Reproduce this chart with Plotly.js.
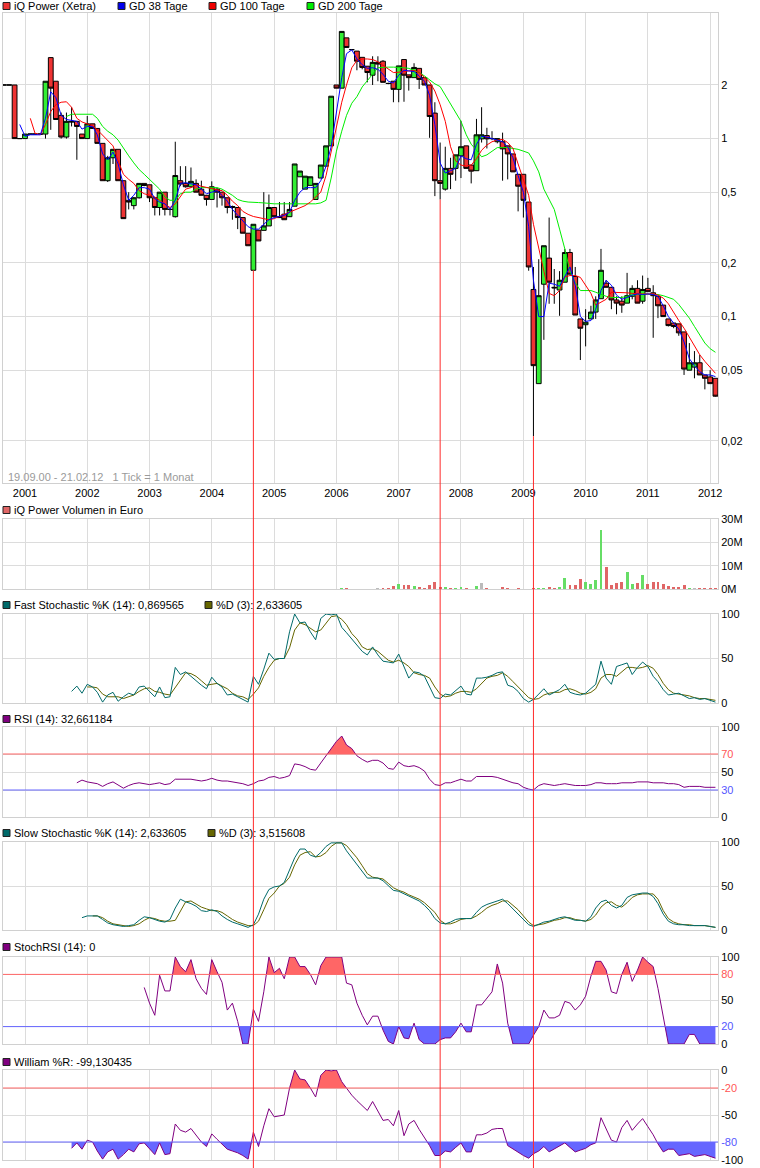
<!DOCTYPE html>
<html><head><meta charset="utf-8">
<script src="https://cdn.plot.ly/plotly-3.0.1.min.js"></script>
<style>html,body{margin:0;padding:0;background:#fff}#chart{width:760px;height:1168px}</style>
</head><body><div id="chart"></div>
<script>
// ---------- DATA (monthly, first candle = Sep 2000) ----------
const startYear = 2000, startMonth = 9;

const open = [2,2,2,1,1.0,1.06,1.06,1.06,1.06,2.85,
 2.1,1.35,1.02,1.25,1.25,1.06,1.0,1.21,1.14,0.94,
 0.58,0.78,0.87,0.58,0.45,0.42,0.465,0.56,0.55,0.465,
 0.41,0.50,0.40,0.364,0.58,0.56,0.536,0.56,0.52,0.48,
 0.455,0.52,0.50,0.465,0.41,0.41,0.36,0.294,0.182,0.306,
 0.305,0.323,0.41,0.364,0.376,0.364,0.417,0.61,0.52,0.546,
 0.455,0.60,0.70,0.91,2.0,1.92,3.68,3.16,3.1,2.86,
 2.55,2.27,2.68,2.72,2.04,2.1,1.89,2.78,2.28,2.2,
 2.48,2.2,2.0,1.39,0.58,0.52,0.68,0.68,0.80,0.91,
 0.71,0.66,0.996,1.04,1.0,0.96,0.96,0.91,0.82,0.63,
 0.63,0.44,0.142,0.042,0.152,0.213,0.146,0.141,0.156,0.229,
 0.168,0.097,0.09,0.097,0.106,0.126,0.154,0.146,0.124,0.122,
 0.119,0.13,0.144,0.122,0.144,0.136,0.13,0.116,0.097,0.092,
 0.091,0.082,0.05,0.052,0.055,0.047,0.0458,0.045];
const high = [2,2,2,1,1.06,1.06,1.06,1.06,2.1,2.86,
 2.1,1.4,1.4,1.5,1.25,1.06,1.34,1.21,1.14,0.94,
 0.80,0.87,0.87,0.58,0.50,0.47,0.56,0.56,0.55,0.465,
 0.50,0.50,0.41,0.96,0.70,0.70,0.688,0.59,0.58,0.48,
 0.575,0.53,0.50,0.465,0.42,0.41,0.36,0.294,0.33,0.306,
 0.50,0.485,0.41,0.44,0.44,0.44,0.72,0.657,0.615,0.61,
 0.56,0.71,0.91,1.73,2.0,4.0,3.68,3.18,3.1,2.86,
 2.55,2.9,2.9,2.76,2.06,2.1,2.56,2.78,2.28,2.65,
 2.48,2.2,2.0,1.6,0.95,0.90,0.78,0.81,1.26,0.91,
 0.71,1.29,1.5,1.15,1.1,1.0,1.08,0.91,0.82,0.63,
 0.63,0.44,0.19,0.21,0.25,0.36,0.185,0.18,0.24,0.24,
 0.19,0.097,0.11,0.115,0.13,0.24,0.16,0.146,0.13,0.13,
 0.176,0.15,0.16,0.17,0.165,0.15,0.13,0.116,0.097,0.092,
 0.091,0.082,0.071,0.064,0.061,0.047,0.05,0.045];
const low = [2,2,1,1,1.0,1.06,1.06,1.06,1.0,1.12,
 1.28,1.0,1.0,1.17,0.76,1.0,1.0,1.14,0.94,0.58,
 0.57,0.72,0.58,0.355,0.40,0.40,0.46,0.54,0.44,0.37,
 0.37,0.37,0.37,0.36,0.54,0.53,0.53,0.50,0.48,0.42,
 0.455,0.41,0.42,0.38,0.35,0.31,0.294,0.25,0.182,0.266,
 0.305,0.323,0.364,0.36,0.35,0.364,0.417,0.61,0.52,0.546,
 0.455,0.60,0.70,0.91,1.92,1.92,3.25,3.14,2.42,2.45,
 2.07,2.0,2.1,2.07,2.02,1.6,1.6,1.61,1.86,2.2,
 1.9,2.0,1.01,0.475,0.455,0.51,0.52,0.58,0.60,0.68,
 0.56,0.66,0.95,0.88,0.98,0.94,0.58,0.59,0.65,0.39,
 0.36,0.181,0.0213,0.042,0.074,0.118,0.118,0.101,0.156,0.173,
 0.102,0.057,0.068,0.097,0.097,0.126,0.146,0.11,0.103,0.105,
 0.119,0.125,0.119,0.118,0.138,0.076,0.098,0.1,0.088,0.086,
 0.078,0.047,0.05,0.045,0.047,0.039,0.042,0.0355];
const close = [2,2,1,1,1.06,1.06,1.06,1.06,2.1,1.92,
 1.28,1.02,1.25,1.24,1.17,1.0,1.21,1.14,0.94,0.58,
 0.78,0.87,0.58,0.355,0.44,0.465,0.56,0.545,0.465,0.41,
 0.50,0.40,0.40,0.62,0.555,0.536,0.575,0.50,0.48,0.455,
 0.536,0.50,0.465,0.41,0.415,0.36,0.294,0.25,0.33,0.266,
 0.323,0.41,0.364,0.36,0.35,0.40,0.72,0.657,0.615,0.61,
 0.56,0.71,0.91,1.73,1.92,4.0,3.25,3.16,2.72,2.51,
 2.35,2.68,2.62,2.07,2.04,1.89,2.56,2.27,2.2,2.51,
 2.15,2.0,1.33,0.58,0.56,0.68,0.63,0.81,0.90,0.68,
 0.656,1.05,1.05,0.996,1.0,1.0,0.875,0.82,0.65,0.54,
 0.45,0.19,0.053,0.131,0.25,0.156,0.145,0.16,0.229,0.173,
 0.102,0.086,0.093,0.106,0.124,0.182,0.146,0.124,0.119,0.116,
 0.131,0.144,0.119,0.142,0.138,0.131,0.115,0.1,0.089,0.088,
 0.081,0.0507,0.055,0.055,0.047,0.045,0.042,0.0357];

const gd38Start = 3;
const gd38 = [1.2,1.03,1.05,1.05,1.05,1.3,1.83,
 1.7,1.35,1.28,1.27,1.25,1.13,1.17,1.17,1.05,0.82,
 0.76,0.84,0.72,0.55,0.45,0.48,0.53,0.53,0.52,0.46,
 0.44,0.43,0.40,0.45,0.56,0.565,0.56,0.55,0.52,0.49,
 0.50,0.51,0.48,0.445,0.40,0.37,0.345,0.32,0.31,0.31,
 0.33,0.35,0.36,0.365,0.37,0.385,0.45,0.50,0.53,0.53,
 0.53,0.58,0.70,0.90,1.4,2.2,3.0,3.15,2.8,2.6,
 2.48,2.5,2.45,2.3,2.1,2.05,2.27,2.42,2.4,2.38,
 2.25,2.1,1.75,1.2,0.73,0.64,0.66,0.68,0.80,0.77,
 0.76,0.93,1.03,1.02,1.0,0.98,0.96,0.90,0.78,0.62,
 0.50,0.32,0.16,0.10,0.10,0.154,0.152,0.148,0.167,0.19,
 0.15,0.10,0.094,0.095,0.11,0.14,0.16,0.15,0.132,0.125,
 0.128,0.132,0.134,0.133,0.134,0.133,0.13,0.115,0.10,0.092,
 0.085,0.072,0.058,0.053,0.049,0.047,0.047,0.046];
const gd100Start = 5;
const gd100 = [1.3,1.07,1.05,1.2,1.42,
 1.55,1.6,1.61,1.5,1.3,1.24,1.21,1.18,1.12,1.04,
 0.97,0.91,0.75,0.63,0.59,0.56,0.51,0.49,0.48,0.47,
 0.45,0.43,0.41,0.43,0.47,0.52,0.53,0.55,0.54,0.53,
 0.52,0.515,0.51,0.48,0.445,0.42,0.39,0.375,0.365,0.36,
 0.355,0.35,0.355,0.365,0.375,0.385,0.395,0.41,0.42,0.44,
 0.47,0.50,0.62,0.85,1.2,1.6,2.0,2.5,2.75,2.8,
 2.8,2.78,2.7,2.58,2.45,2.35,2.36,2.38,2.4,2.42,
 2.35,2.2,2.08,1.85,1.55,1.25,0.9,0.75,0.71,0.70,
 0.71,0.77,0.86,0.92,0.96,0.98,0.99,0.95,0.88,0.72,
 0.58,0.48,0.33,0.24,0.18,0.135,0.131,0.14,0.167,0.17,
 0.17,0.166,0.15,0.135,0.116,0.12,0.125,0.137,0.137,0.137,
 0.136,0.135,0.134,0.134,0.134,0.134,0.132,0.127,0.118,0.105,
 0.095,0.086,0.077,0.069,0.061,0.056,0.052,0.048];
const gd200Start = 12;
const gd200 = [1.33,1.37,1.37,1.37,1.37,1.37,1.3,1.17,
 1.1,1.05,0.98,0.88,0.80,0.73,0.67,0.63,0.59,0.555,
 0.52,0.47,0.45,0.45,0.49,0.50,0.50,0.52,0.53,0.53,
 0.53,0.53,0.52,0.50,0.48,0.455,0.445,0.44,0.44,0.437,
 0.435,0.432,0.43,0.43,0.43,0.43,0.43,0.43,0.43,0.43,
 0.43,0.435,0.45,0.6,0.85,1.1,1.35,1.58,1.72,1.95,
 2.1,2.3,2.5,2.52,2.52,2.52,2.52,2.5,2.48,2.42,
 2.35,2.25,2.13,2.03,1.96,1.75,1.58,1.4,1.25,1.05,
 0.93,0.86,0.79,0.81,0.85,0.89,0.89,0.89,0.88,0.87,
 0.85,0.83,0.75,0.65,0.52,0.45,0.40,0.31,0.24,0.18,
 0.155,0.14,0.14,0.14,0.137,0.133,0.13,0.128,0.128,0.128,
 0.13,0.132,0.133,0.134,0.134,0.134,0.133,0.131,0.128,0.125,
 0.117,0.107,0.098,0.088,0.079,0.071,0.066,0.063];

// Volume in million euro, with month direction: u = up, d = down, n = unchanged
const volStart = 65;
const volumeMio = [0.45,0.45,0,0,0,0,0,0.45,0.45,0.45,
 1.3,2.2,1.8,1.8,1.3,0.9,0.6,1.8,3.1,0.9,
 0.9,0.45,0.45,0.9,0.45,0,1.3,2.7,0.45,0,
 0,0.9,0.45,0,0.45,0,0,0.45,0.45,0.45,
 0.9,0.45,0.9,4.9,1.8,1.8,4.4,3.1,2.2,4.0,
 25.3,9.3,1.8,2.7,3.1,7.1,2.2,2.7,6.2,2.2,
 3.1,3.1,2.2,1.3,0.9,0.9,1.8,0.45,0.45,0.45,
 0.45,0.45,0.45];
const volDir = ['u','d','n','n','n','n','n','n','d','d',
 'd','u','d','d','u','d','d','d','d','d',
 'u','d','u','u','d','n','u','n','d','n',
 'n','d','d','n','d','n','n','d','u','u',
 'd','d','u','u','d','d','d','u','u','u',
 'u','d','d','d','d','u','u','d','u','d',
 'd','d','d','d','d','d','d','u','n','d',
 'd','d','d'];

const fastKStart = 13;
const fastK = [13,19,11,21,18,12,1,9,12,2,7,
 11,9,18,19,13,7,18,6,7,40,
 32,35,30,25,20,16,29,22,18,9,
 10,7,4,1,30,21,38,56,49,50,
 50,80,100,90,91,80,71,95,100,99,
 100,85,79,72,65,58,54,63,54,47,
 46,45,55,40,28,35,34,30,19,6,
 5,10,9,14,19,10,9,28,28,29,
 31,34,35,20,18,13,5,1,4,10,
 16,9,12,15,21,12,10,9,11,16,
 21,47,28,21,41,43,45,32,40,46,
 41,30,24,15,9,10,11,8,5,6,
 4,5,3,1];
const fastDStart = 16;
const fastD = [18,18,17,10,7,7,7,5,7,9,
 13,16,17,13,12,10,9,17,26,34,
 33,30,25,20,21,22,19,16,11,8,
 7,4,10,17,30,40,48,50,50,62,
 82,90,88,84,80,82,90,97,98,94,
 88,78,72,63,60,61,58,53,48,46,
 48,45,41,34,32,31,28,18,10,7,
 8,11,13,13,12,16,22,28,30,31,
 34,30,24,18,12,6,4,5,9,11,
 12,12,15,16,14,11,10,12,16,28,
 32,32,30,35,40,40,39,40,42,39,
 32,22,15,11,10,9,8,6,5,5,
 4,3];
const rsiStart = 14;
const rsi = [38,41,39,38,37,34,37,39,36,32,
 35,37,38,37,36,37,38,36,37,42,
 42,42,42,41,40,41,43,41,40,40,
 39,38,37,35,37,40,41,44,45,43,
 44,46,59,58,56,53,52,60,68,76,
 84,90,80,76,68,64,61,63,63,60,
 54,53,61,57,56,57,55,51,42,36,
 35,38,38,40,42,40,40,45,45,45,
 45,44,42,40,38,37,33,31,30,35,
 37,36,35,36,37,36,35,35,35,36,
 38,38,37,37,37,38,38,38,39,39,
 39,38,38,38,37,37,36,33,34,34,
 34,33,33,33];
const slowKStart = 15;
const slowK = [14,16,16,16,12,8,6,5,4,5,
 6,11,15,14,12,10,9,12,25,35,
 32,30,27,22,21,23,21,16,12,9,
 7,5,3,6,18,35,46,49,50,54,
 68,82,92,92,85,83,88,95,99,99,
 99,90,82,74,66,59,59,59,56,50,
 45,44,41,38,35,33,28,22,13,8,
 7,9,12,13,13,13,20,26,29,31,
 33,35,30,24,18,13,6,4,7,9,
 10,12,14,15,13,11,11,10,15,25,
 32,34,28,25,28,37,40,41,42,42,
 38,30,18,10,7,6,6,5,5,5,
 5,4,3];
const slowDStart = 17;
const slowD = [16,16,14,10,7,6,5,4,5,7,
 11,14,13,11,10,10,11,22,32,33,
 30,26,24,22,22,20,16,12,9,7,
 5,5,10,23,36,42,50,53,60,74,
 85,88,89,83,84,88,95,99,99,96,
 89,82,73,64,60,59,58,53,48,45,
 43,40,37,35,31,26,20,11,7,7,
 9,12,13,13,16,20,25,28,30,33,
 33,28,23,16,9,5,6,7,9,11,
 12,14,14,12,11,10,12,17,26,31,
 32,28,26,31,37,40,41,41,41,35,
 22,13,9,7,6,6,5,5,5,4,
 3];
const stochRsiStart = 27;
const stochRsi = [65,47,33,79,61,61,100,89,83,97,
 75,64,57,97,83,71,39,47,26,0,
 0,40,26,60,100,82,87,75,100,100,
 89,89,80,68,90,100,100,100,100,70,
 68,47,33,22,32,32,16,3,0,20,
 7,6,24,5,0,0,0,5,7,7,
 14,24,14,14,45,45,52,60,92,70,
 24,0,0,0,0,10,20,39,30,30,
 33,49,47,39,45,55,78,95,95,85,
 60,58,80,94,72,85,100,94,89,64,
 30,0,0,0,0,11,11,0,0,0,
 0];
const williamsStart = 13;
const williamsR = [-87,
 -81,-88,-78,-80,-90,-99,-91,-88,-99,-94,
 -88,-91,-82,-81,-87,-94,-81,-94,-93,-60,
 -67,-69,-65,-72,-80,-85,-71,-77,-82,-88,
 -90,-92,-95,-99,-69,-85,-62,-43,-52,-51,
 -50,-20,0,-10,-11,-20,-30,-6,0,-1,
 0,-13,-20,-28,-34,-40,-45,-35,-45,-56,
 -55,-62,-45,-73,-60,-56,-66,-75,-84,-95,
 -95,-90,-91,-86,-81,-91,-91,-72,-72,-70,
 -66,-65,-65,-84,-88,-91,-95,-98,-93,-90,
 -85,-91,-88,-84,-81,-86,-91,-89,-87,-83,
 -81,-53,-65,-78,-80,-64,-56,-67,-60,-54,
 -63,-72,-82,-91,-88,-88,-95,-94,-93,-96,
 -95,-94,-96,-98];

// months of the marked lows (index into candles)
const markedLows = [48, 84, 102];

const yearTicks = ['2001','2002','2003','2004','2005','2006','2007','2008','2009','2010','2011','2012'];
const priceTickVals = [2,1,0.5,0.2,0.1,0.05,0.02];
const priceTickText = ['2','1','0,5','0,2','0,1','0,05','0,02'];
const volTickVals = [0,10,20,30];
const volTickText = ['0M','10M','20M','30M'];

// ---------- helpers ----------
function monthDate(i){
  const m = startMonth - 1 + i;
  const y = startYear + Math.floor(m/12);
  const mm = (m % 12) + 1;
  return y + '-' + String(mm).padStart(2,'0') + '-01';
}
function ms(i){ return Date.parse(monthDate(i) + 'T00:00:00Z'); }
function xs(start, vals){ return vals.map((_,k)=>monthDate(start+k)); }
function band(start, vals, thr, above){
  const bx=[], by=[];
  for(let k=0;k<vals.length;k++){
    const t = ms(start+k);
    if(k>0){
      const v0=vals[k-1], v1=vals[k];
      if((v0-thr)*(v1-thr)<0){
        const t0 = ms(start+k-1);
        const f = (thr-v0)/(v1-v0);
        bx.push(t0 + f*(t-t0)); by.push(thr);
      }
    }
    bx.push(t); by.push(above ? Math.max(vals[k],thr) : Math.min(vals[k],thr));
  }
  return {x:bx, y:by};
}

// ---------- geometry ----------
const W=760, H=1168;
const M = {l:3, r:42, t:13, b:8};
const PT = M.t, PB = H - M.b, PH = PB - PT, PL = M.l, PW = W - M.l - M.r;
const py = p => (PB - p)/PH;          // pixel y -> paper
const px = p => (p - PL)/PW;          // pixel x -> paper
const dom = (top, bot) => [Math.max(0,py(bot)), Math.min(1,py(top))];
const D = {
  main: dom(13,483), vol: dom(519,589), fast: dom(614,703), rsi: dom(727,817),
  slow: dom(842,930), srsi: dom(957,1044), wr: dom(1070,1160)
};
const mainRange = [-1.935, 0.7055];

const GRID = '#dcdcdc', LINE = '#d0d0d0';
const RED = '#ff6666', BLUE = '#6666ff', PURPLE = '#800080', TEAL = '#006a6a', OLIVE = '#666600';
const FONT = 'Liberation Sans, Arial, sans-serif';

const red = t => '<span style="color:#ff5555">'+t+'</span>';
const blue = t => '<span style="color:#5555ff">'+t+'</span>';

// ---------- traces ----------
const dates = open.map((_,i)=>monthDate(i));
const traces = [];

traces.push({
  type:'candlestick', x:dates, open:open, high:high, low:low, close:close,
  xaxis:'x', yaxis:'y', whiskerwidth:0,
  increasing:{line:{color:'#000000', width:1}, fillcolor:'#33ee33'},
  decreasing:{line:{color:'#000000', width:1}, fillcolor:'#ee3333'},
  hoverinfo:'skip', showlegend:false
});
traces.push({type:'scatter', mode:'lines', x:xs(gd200Start,gd200), y:gd200, yaxis:'y', line:{color:'#00ee00', width:1}, hoverinfo:'skip'});
traces.push({type:'scatter', mode:'lines', x:xs(gd100Start,gd100), y:gd100, yaxis:'y', line:{color:'#ff0000', width:1}, hoverinfo:'skip'});
traces.push({type:'scatter', mode:'lines', x:xs(gd38Start,gd38), y:gd38, yaxis:'y', line:{color:'#0000ff', width:1}, hoverinfo:'skip'});

const dirColor = {u:'#66dd66', d:'#e06666', n:'#bbbbbb'};
traces.push({type:'bar', x:xs(volStart,volumeMio), y:volumeMio, yaxis:'y2',
  marker:{color:volDir.map(d=>dirColor[d]), line:{width:0}}, width:17*864e5, hoverinfo:'skip'});

traces.push({type:'scatter', mode:'lines', x:xs(fastDStart,fastD), y:fastD, yaxis:'y3', line:{color:OLIVE, width:1}, hoverinfo:'skip'});
traces.push({type:'scatter', mode:'lines', x:xs(fastKStart,fastK), y:fastK, yaxis:'y3', line:{color:TEAL, width:1}, hoverinfo:'skip'});

function addBand(start, vals, thr, above, yaxis, color){
  const b = band(start, vals, thr, above);
  traces.push({type:'scatter', mode:'lines', x:b.x, y:b.x.map(()=>thr), yaxis:yaxis, line:{width:0, color:color}, hoverinfo:'skip'});
  traces.push({type:'scatter', mode:'lines', x:b.x, y:b.y, yaxis:yaxis, line:{width:0, color:color}, fill:'tonexty', fillcolor:color, hoverinfo:'skip'});
}
addBand(rsiStart, rsi, 70, true, 'y4', RED);
traces.push({type:'scatter', mode:'lines', x:xs(rsiStart,rsi), y:rsi, yaxis:'y4', line:{color:PURPLE, width:1}, hoverinfo:'skip'});

traces.push({type:'scatter', mode:'lines', x:xs(slowDStart,slowD), y:slowD, yaxis:'y5', line:{color:OLIVE, width:1}, hoverinfo:'skip'});
traces.push({type:'scatter', mode:'lines', x:xs(slowKStart,slowK), y:slowK, yaxis:'y5', line:{color:TEAL, width:1}, hoverinfo:'skip'});

addBand(stochRsiStart, stochRsi, 80, true, 'y6', RED);
addBand(stochRsiStart, stochRsi, 20, false, 'y6', BLUE);
traces.push({type:'scatter', mode:'lines', x:xs(stochRsiStart,stochRsi), y:stochRsi, yaxis:'y6', line:{color:PURPLE, width:1}, hoverinfo:'skip'});

addBand(williamsStart, williamsR, -20, true, 'y7', RED);
addBand(williamsStart, williamsR, -80, false, 'y7', BLUE);
traces.push({type:'scatter', mode:'lines', x:xs(williamsStart,williamsR), y:williamsR, yaxis:'y7', line:{color:PURPLE, width:1}, hoverinfo:'skip'});

// ---------- axes ----------
function yax(domain, extra){
  return Object.assign({domain:domain, anchor:'x', side:'right', showgrid:true, gridcolor:GRID, gridwidth:1,
    zeroline:false, showline:true, mirror:true, linecolor:LINE, linewidth:1, ticks:'', ticklen:0,
    tickfont:{family:FONT, size:11, color:'#000'}, fixedrange:true, automargin:false}, extra);
}
const layout = {
  width:W, height:H, margin:M, paper_bgcolor:'#fff', plot_bgcolor:'#fff',
  showlegend:false, font:{family:FONT, size:11, color:'#000'},
  boxgap:0, boxgroupgap:0, bargap:0,
  xaxis:{type:'date', anchor:'y', range:[Date.UTC(2000,7,25), Date.UTC(2012,1,16)],
    tickvals:yearTicks.map(y=>y+'-01-01'), ticktext:yearTicks,
    showgrid:true, gridcolor:GRID, zeroline:false, showline:true, mirror:'all', linecolor:LINE,
    ticks:'', tickfont:{family:FONT, size:11, color:'#000'}, rangeslider:{visible:false}, fixedrange:true},
  yaxis: yax(D.main, {type:'log', range:mainRange, tickvals:priceTickVals, ticktext:priceTickText}),
  yaxis2: yax(D.vol, {range:[0,30], tickvals:volTickVals, ticktext:volTickText}),
  yaxis3: yax(D.fast, {range:[0,100], tickvals:[0,50,100], ticktext:['0','50','100']}),
  yaxis4: yax(D.rsi, {range:[0,100], tickvals:[0,30,50,70,100], ticktext:['0',blue('30'),'50',red('70'),'100']}),
  yaxis5: yax(D.slow, {range:[0,100], tickvals:[0,50,100], ticktext:['0','50','100']}),
  yaxis6: yax(D.srsi, {range:[0,100], tickvals:[0,20,50,80,100], ticktext:['0',blue('20'),'50',red('80'),'100']}),
  yaxis7: yax(D.wr, {range:[-100,0], tickvals:[-100,-80,-50,-20,0], ticktext:['-100',blue('-80'),'-50',red('-20'),'0']}),
  shapes:[], annotations:[]
};

// threshold lines
[['y4',70,RED],['y4',30,BLUE],['y6',80,RED],['y6',20,BLUE],['y7',-20,RED],['y7',-80,BLUE]].forEach(([ya,v,c])=>{
  layout.shapes.push({type:'line', xref:'paper', x0:0, x1:1, yref:ya, y0:v, y1:v, line:{color:c, width:1}, layer:'above'});
});

// vertical lines from marked lows down to the bottom
markedLows.forEach(i=>{
  const lowPaper = D.main[0] + (Math.log10(low[i]) - mainRange[0])/(mainRange[1]-mainRange[0])*(D.main[1]-D.main[0]);
  layout.shapes.push({type:'line', xref:'x', x0:monthDate(i), x1:monthDate(i), yref:'paper', y0:py(H), y1:lowPaper,
    line:{color:'#ff2a2a', width:1}, layer:'above'});
});

// panel headers (legend rows)
const legendRows = [
  {y:6, items:[{x:3,c:'#ee3333',t:'iQ Power (Xetra)'},{x:118,c:'#0000ee',t:'GD 38 Tage'},{x:209,c:'#ee0000',t:'GD 100 Tage'},{x:307,c:'#00ee00',t:'GD 200 Tage'}]},
  {y:510, items:[{x:3,c:'#e06666',t:'iQ Power Volumen in Euro'}]},
  {y:605, items:[{x:3,c:TEAL,t:'Fast Stochastic %K (14): 0,869565'},{x:205,c:OLIVE,t:'%D (3): 2,633605'}]},
  {y:719, items:[{x:3,c:PURPLE,t:'RSI (14): 32,661184'}]},
  {y:833, items:[{x:3,c:TEAL,t:'Slow Stochastic %K (14): 2,633605'},{x:208,c:OLIVE,t:'%D (3): 3,515608'}]},
  {y:947, items:[{x:3,c:PURPLE,t:'StochRSI (14): 0'}]},
  {y:1062, items:[{x:3,c:PURPLE,t:'William %R: -99,130435'}]}
];
legendRows.forEach(row=>{
  row.items.forEach(it=>{
    layout.shapes.push({type:'rect', xref:'paper', yref:'paper', x0:px(it.x), x1:px(it.x+7), y0:py(row.y+3.5), y1:py(row.y-3.5),
      fillcolor:it.c, line:{color:'#222', width:1}, layer:'above'});
    layout.annotations.push({xref:'paper', yref:'paper', x:px(it.x+10), y:py(row.y), xanchor:'left', yanchor:'middle',
      text:it.t, showarrow:false, font:{family:FONT, size:11, color:'#000'}, borderpad:0});
  });
});
layout.annotations.push({xref:'paper', yref:'paper', x:px(7), y:py(477), xanchor:'left', yanchor:'middle',
  text:'19.09.00 - 21.02.12 &nbsp; 1 Tick = 1 Monat', showarrow:false, font:{family:FONT, size:11, color:'#9a9a9a'}, borderpad:0});

Plotly.newPlot('chart', traces, layout, {staticPlot:true, displayModeBar:false});
</script>
</body></html>
